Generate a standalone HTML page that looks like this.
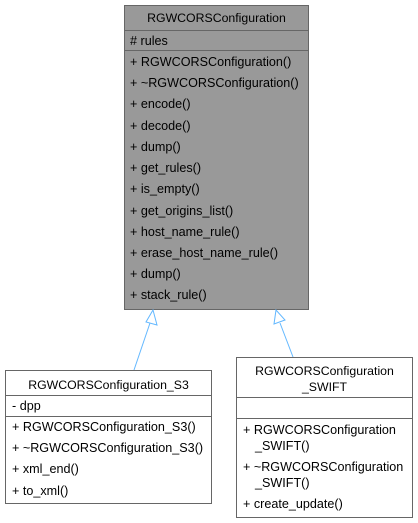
<!DOCTYPE html>
<html><head><style>html,body{margin:0;padding:0;background:#fff}svg{display:block}text{font-family:"Liberation Sans",Arial,sans-serif;font-size:12.6px;fill:#000}text.t{font-size:12.3px}</style></head><body>
<svg width="418" height="523" viewBox="0 0 418 523">
<rect x="124.5" y="5.5" width="184" height="304" fill="#999" stroke="#666"/>
<line x1="124.5" y1="30.5" x2="308.5" y2="30.5" stroke="#666"/>
<line x1="124.5" y1="50.5" x2="308.5" y2="50.5" stroke="#666"/>
<text class="t" x="216.5" y="22" text-anchor="middle">RGWCORSConfiguration</text>
<text x="130" y="45"># rules</text>
<text x="130" y="66">+ RGWCORSConfiguration()</text>
<text x="130" y="87">+ ~RGWCORSConfiguration()</text>
<text x="130" y="108">+ encode()</text>
<text x="130" y="130">+ decode()</text>
<text x="130" y="151">+ dump()</text>
<text x="130" y="172">+ get_rules()</text>
<text x="130" y="193">+ is_empty()</text>
<text x="130" y="215">+ get_origins_list()</text>
<text x="130" y="236">+ host_name_rule()</text>
<text x="130" y="257">+ erase_host_name_rule()</text>
<text x="130" y="278">+ dump()</text>
<text x="130" y="299">+ stack_rule()</text>

<line x1="134" y1="370" x2="150" y2="323" stroke="#63b8ff"/>
<polygon points="153,310 146,322 157,325" fill="#fff" stroke="#63b8ff"/>
<line x1="293" y1="357" x2="280" y2="323" stroke="#63b8ff"/>
<polygon points="276,310 274,324 285,320" fill="#fff" stroke="#63b8ff"/>

<rect x="5.5" y="370.5" width="206" height="133" fill="#fff" stroke="#666"/>
<line x1="5.5" y1="395.5" x2="211.5" y2="395.5" stroke="#666"/>
<line x1="5.5" y1="416.5" x2="211.5" y2="416.5" stroke="#666"/>
<text class="t" x="108.5" y="389" text-anchor="middle">RGWCORSConfiguration_S3</text>
<text x="12" y="410">-  dpp</text>
<text x="12" y="431">+ RGWCORSConfiguration_S3()</text>
<text x="12" y="452">+ ~RGWCORSConfiguration_S3()</text>
<text x="12" y="473">+ xml_end()</text>
<text x="12" y="495">+ to_xml()</text>

<rect x="236.5" y="357.5" width="176" height="160" fill="#fff" stroke="#666"/>
<line x1="236.5" y1="397.5" x2="412.5" y2="397.5" stroke="#666"/>
<line x1="236.5" y1="418.5" x2="412.5" y2="418.5" stroke="#666"/>
<text class="t" x="324.5" y="375" text-anchor="middle">RGWCORSConfiguration</text>
<text class="t" x="324.5" y="391" text-anchor="middle">_SWIFT</text>
<text x="243" y="434">+ RGWCORSConfiguration</text>
<text x="255" y="450">_SWIFT()</text>
<text x="243" y="471">+ ~RGWCORSConfiguration</text>
<text x="255" y="487">_SWIFT()</text>
<text x="243" y="508">+ create_update()</text>
</svg>
</body></html>
